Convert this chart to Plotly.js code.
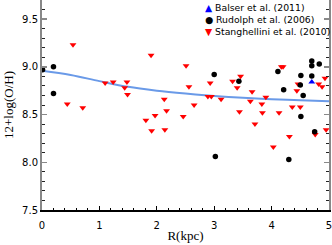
<!DOCTYPE html>
<html>
<head>
<meta charset="utf-8">
<script src="https://cdn.plot.ly/plotly-3.0.1.min.js"></script>
<style>html,body{margin:0;padding:0;background:#fff;}#chart{width:332px;height:245px;}</style>
</head>
<body>
<div id="chart"></div>
<script>
// Rudolph et al. (2006)
var rudolphR = [0.01, 0.2, 0.2, 3.0, 3.02, 3.43, 4.11, 4.21, 4.30, 4.51, 4.50, 4.55, 4.51, 4.70, 4.70, 4.70, 4.83, 4.75];
var rudolphOH = [8.97, 9.0, 8.72, 8.92, 8.06, 8.85, 8.95, 8.76, 8.03, 8.91, 8.81, 8.70, 8.48, 9.06, 9.01, 8.905, 9.03, 8.32];
// Balser et al. (2011)
var balserR = [4.70];
var balserOH = [8.84];
// Stanghellini et al. (2010)
var stangR = [0.54, 0.44, 0.71, 1.10, 1.24, 1.48, 1.44, 1.49, 1.90, 1.81, 1.97, 1.91, 2.14, 2.13, 2.17, 2.46, 2.51, 2.56, 2.65, 2.93, 2.89, 2.95, 3.12, 3.32, 3.46, 3.40, 3.44, 3.66, 3.63, 3.83, 3.84, 3.90, 3.71, 4.17, 4.20, 4.13, 4.36, 4.31, 4.46, 4.44, 4.50, 4.82, 4.88, 4.93, 4.76, 4.95, 4.03];
var stangOH = [9.23, 8.61, 8.57, 8.83, 8.84, 8.84, 8.78, 8.71, 9.12, 8.44, 8.49, 8.33, 8.34, 8.66, 8.54, 8.48, 9.01, 8.79, 8.60, 8.83, 8.69, 8.69, 8.66, 8.85, 8.90, 8.78, 8.53, 8.74, 8.64, 8.61, 8.52, 8.68, 8.40, 9.00, 9.00, 8.52, 8.58, 8.27, 8.82, 8.75, 8.58, 8.82, 8.79, 8.88, 8.29, 8.34, 8.16];
// model gradient curve
var modelR = [0, 0.5, 1, 1.5, 2, 2.5, 3, 3.5, 4, 4.5, 5];
var modelOH = [8.96, 8.915, 8.85, 8.79, 8.75, 8.72, 8.695, 8.675, 8.66, 8.65, 8.64];
var legendNames = ['Balser et al. (2011)', 'Rudolph et al. (2006)', 'Stanghellini et al. (2010)'];
var legendColors = ['#0000ff', '#000000', '#ff0000'];
var legendSymbols = ['\u25B2', '\u25CF', '\u25BC'];

var traces = [
  {x: modelR, y: modelOH, mode: 'lines', line: {color: '#6a9ae8', width: 2, shape: 'spline'}, showlegend: false, hoverinfo: 'skip'},
  {x: stangR, y: stangOH, mode: 'markers', name: legendNames[2], marker: {symbol: 'triangle-down', color: '#ff0000', size: 6}, showlegend: false},
  {x: rudolphR, y: rudolphOH, mode: 'markers', name: legendNames[1], marker: {symbol: 'circle', color: '#000000', size: 5.5}, showlegend: false},
  {x: balserR, y: balserOH, mode: 'markers', name: legendNames[0], marker: {symbol: 'triangle-up', color: '#0000ff', size: 6}, showlegend: false}
];

var legendText = legendNames.map(function(n, i){
  return '<span style="color:' + legendColors[i] + '">' + legendSymbols[i] + '</span> ' + n;
}).join('<br>');

var layout = {
  width: 332, height: 245,
  margin: {l: 42, r: 3, t: 0, b: 35},
  paper_bgcolor: '#ffffff', plot_bgcolor: '#ffffff',
  showlegend: false,
  font: {family: 'DejaVu Sans', size: 10, color: '#000'},
  xaxis: {
    range: [0, 5], dtick: 1, tick0: 0,
    showgrid: false, zeroline: false,
    showline: true, linecolor: '#000', linewidth: 1.5, mirror: false,
    ticks: 'inside', ticklen: 4, tickcolor: '#000', tickwidth: 1,
    minor: {dtick: 0.2, ticks: 'inside', ticklen: 2, tickcolor: '#000', tickwidth: 1, showgrid: false},
    tickfont: {family: 'DejaVu Sans', size: 10},
    ticklabeloverflow: 'allow', ticklabelstandoff: 5,
    title: {text: 'R(kpc)', font: {family: 'Liberation Serif', size: 13}, standoff: 1}
  },
  yaxis: {
    range: [7.5, 9.7], dtick: 0.5, tick0: 7.5, tickformat: '.1f',
    showgrid: false, zeroline: false,
    showline: true, linecolor: '#888', linewidth: 2, mirror: 'ticks',
    ticks: 'inside', ticklen: 5, tickcolor: '#888', tickwidth: 1.5,
    minor: {dtick: 0.1, ticks: 'inside', ticklen: 3, tickcolor: '#222', tickwidth: 1, showgrid: false},
    tickfont: {family: 'DejaVu Sans', size: 10},
    ticklabeloverflow: 'allow',
    title: {text: '12+log(O/H)', font: {family: 'Liberation Serif', size: 13}, standoff: 6}
  },
  annotations: [{
    xref: 'paper', yref: 'paper', x: 0.562, y: 1.0, xanchor: 'left', yanchor: 'top',
    align: 'left', showarrow: false, text: legendText,
    font: {family: 'DejaVu Sans', size: 9.3, color: '#000'}
  }]
};

Plotly.newPlot('chart', traces, layout, {displayModeBar: false, staticPlot: true});
</script>
</body>
</html>
